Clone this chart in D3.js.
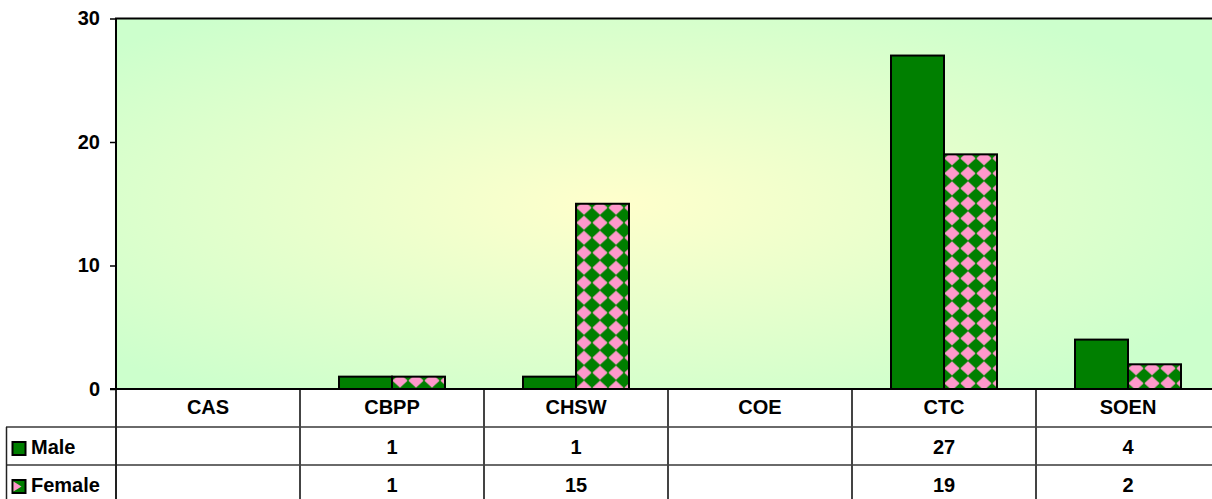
<!DOCTYPE html>
<html>
<head>
<meta charset="utf-8">
<script src="https://cdn.jsdelivr.net/npm/d3@7"></script>
<style>
  html, body { margin: 0; padding: 0; background: #fff; }
  svg { display: block; font-family: "Liberation Sans", Arial, sans-serif; font-weight: bold; }
</style>
</head>
<body>
<script>
const categories = ['CAS', 'CBPP', 'CHSW', 'COE', 'CTC', 'SOEN'];
const seriesNames = ['Male', 'Female'];
const maleValues = [null, 1, 1, null, 27, 4];
const femaleValues = [null, 1, 15, null, 19, 2];
const yTicks = [0, 10, 20, 30];

document.addEventListener('DOMContentLoaded', () => {
  drawChart();
});

const drawChart = () => {
  const width = 1212, height = 499;
  const plot = {left: 116, right: 1220, top: 18.5, bottom: 389};
  const rowH = 38;
  const fontSize = 20;
  const green = '#007f00', pink = '#ff99cc';

  const svg = d3.select('body').append('svg')
    .attr('width', width)
    .attr('height', height);

  const defs = svg.append('defs');
  const grad = defs.append('radialGradient')
    .attr('id', 'bg')
    .attr('cx', 0.45).attr('cy', 0.5).attr('r', 0.62);
  grad.append('stop').attr('offset', '0%').attr('stop-color', '#ffffcc');
  grad.append('stop').attr('offset', '100%').attr('stop-color', '#ccffcc');

  const x = d3.scaleBand()
    .domain(categories)
    .range([plot.left, plot.right]);

  const xInner = d3.scaleBand()
    .domain(seriesNames)
    .range([0, x.bandwidth()])
    .paddingOuter(0.736);

  const y = d3.scaleLinear()
    .domain([0, 30])
    .range([plot.bottom, plot.top]);

  // plot background
  svg.append('rect')
    .attr('x', plot.left).attr('y', plot.top)
    .attr('width', plot.right - plot.left)
    .attr('height', plot.bottom - plot.top)
    .attr('fill', 'url(#bg)');

  const rows = categories.map((c, i) => ({cat: c, Male: maleValues[i], Female: femaleValues[i]}));

  // female checker pattern, one per bar so diamonds start at the bar top
  const tile = {w: 16, h: 15};
  rows.forEach((r, i) => {
    if (r.Female == null) return;
    const p = defs.append('pattern')
      .attr('id', 'chk' + i)
      .attr('patternUnits', 'userSpaceOnUse')
      .attr('width', tile.w).attr('height', tile.h)
      .attr('x', x(r.cat) + xInner('Female'))
      .attr('y', y(r.Female) - tile.h / 2 + 4);
    p.append('rect').attr('width', tile.w).attr('height', tile.h).attr('fill', green);
    p.append('path')
      .attr('d', `M${tile.w / 2},0.8 L${tile.w - 0.8},${tile.h / 2} L${tile.w / 2},${tile.h - 0.8} L0.8,${tile.h / 2} Z`)
      .attr('fill', pink)
      .attr('stroke', pink)
      .attr('stroke-width', 0.8)
      .attr('stroke-linejoin', 'round');
  });

  const barData = [];
  rows.forEach((r, i) => {
    seriesNames.forEach(s => {
      if (r[s] != null) barData.push({cat: r.cat, series: s, value: r[s], i: i});
    });
  });

  svg.append('g')
    .attr('id', 'bars')
    .selectAll('rect')
    .data(barData)
    .enter()
    .append('rect')
    .attr('x', d => x(d.cat) + xInner(d.series))
    .attr('y', d => y(d.value))
    .attr('width', xInner.bandwidth())
    .attr('height', d => y(0) - y(d.value))
    .attr('fill', d => d.series === 'Male' ? green : `url(#chk${d.i})`)
    .attr('stroke', '#000')
    .attr('stroke-width', 2);

  // plot frame: top and left
  svg.append('path')
    .attr('d', `M${plot.left},${plot.bottom} V${plot.top} H${plot.right}`)
    .attr('fill', 'none')
    .attr('stroke', '#000')
    .attr('stroke-width', 2);

  // y axis
  const yAxis = svg.append('g')
    .attr('transform', `translate(${plot.left},0)`)
    .call(d3.axisLeft(y).tickValues(yTicks).tickSize(6).tickPadding(10));
  yAxis.select('.domain').remove();
  yAxis.selectAll('.tick line').attr('stroke', '#000').attr('stroke-width', 1.5);
  yAxis.selectAll('.tick text')
    .attr('font-size', fontSize)
    .attr('font-weight', 'bold')
    .attr('font-family', '"Liberation Sans", Arial, sans-serif')
    .attr('fill', '#000');

  // data table
  const table = svg.append('g').attr('id', 'table');
  const tableTop = plot.bottom;
  const lineColor = '#6a6a6a';

  // horizontal rules
  [1, 2, 3].forEach(k => {
    table.append('line')
      .attr('x1', 6).attr('x2', width)
      .attr('y1', tableTop + rowH * k).attr('y2', tableTop + rowH * k)
      .attr('stroke', lineColor).attr('stroke-width', 2);
  });

  // vertical rules
  const colEdges = categories.map(c => x(c)).concat([plot.right]);
  table.selectAll('line.v')
    .data(colEdges.slice(1))
    .enter()
    .append('line')
    .attr('class', 'v')
    .attr('x1', d => d).attr('x2', d => d)
    .attr('y1', tableTop).attr('y2', height)
    .attr('stroke', '#444').attr('stroke-width', 2);
  table.append('line')
    .attr('x1', plot.left).attr('x2', plot.left)
    .attr('y1', tableTop).attr('y2', height)
    .attr('stroke', '#222').attr('stroke-width', 2);
  table.append('line')
    .attr('x1', 6.5).attr('x2', 6.5)
    .attr('y1', tableTop + rowH).attr('y2', height)
    .attr('stroke', '#222').attr('stroke-width', 1.5);

  // baseline
  svg.append('line')
    .attr('x1', plot.left - 6).attr('x2', plot.right)
    .attr('y1', plot.bottom).attr('y2', plot.bottom)
    .attr('stroke', '#000').attr('stroke-width', 2);

  // category header
  table.selectAll('text.cat')
    .data(categories)
    .enter()
    .append('text')
    .attr('class', 'cat')
    .attr('x', d => x(d) + x.bandwidth() / 2)
    .attr('y', tableTop + 25)
    .attr('text-anchor', 'middle')
    .attr('font-size', fontSize)
    .text(d => d);

  // value rows
  const seriesValues = {Male: maleValues, Female: femaleValues};
  seriesNames.forEach((s, si) => {
    const cy = tableTop + rowH * (si + 1) + rowH / 2;
    table.selectAll(`text.val${si}`)
      .data(seriesValues[s])
      .enter()
      .append('text')
      .attr('class', `val${si}`)
      .attr('x', (d, i) => x(categories[i]) + x.bandwidth() / 2)
      .attr('y', cy + 7.5)
      .attr('text-anchor', 'middle')
      .attr('font-size', fontSize)
      .text(d => d == null ? '' : d);

    // legend key
    const key = table.append('g').attr('transform', `translate(12.5,${cy - 4})`);
    key.append('rect').attr('width', 13).attr('height', 13)
      .attr('fill', green).attr('stroke', '#000').attr('stroke-width', 2);
    if (s === 'Female') {
      key.append('path').attr('d', 'M1,1.5 L9,6.5 L1,11.5 Z').attr('fill', pink);
    }
    table.append('text')
      .attr('x', 31)
      .attr('y', cy + 7.5)
      .attr('font-size', fontSize)
      .text(s);
  });
};
</script>
</body>
</html>
